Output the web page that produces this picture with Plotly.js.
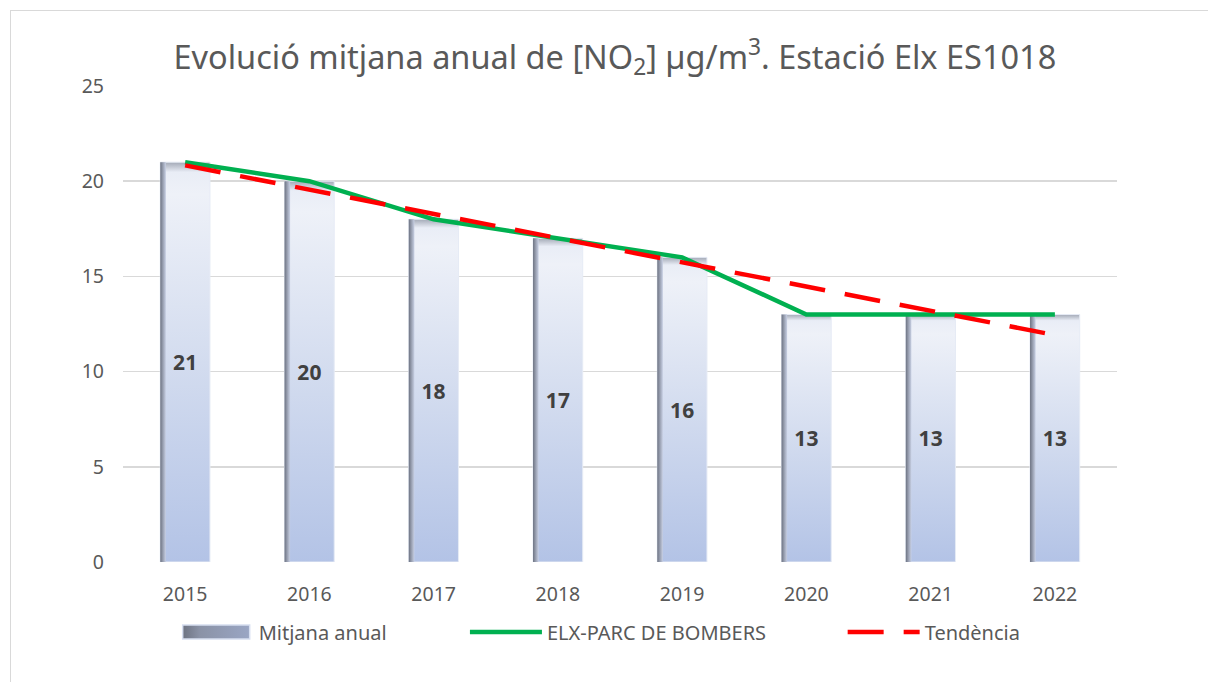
<!DOCTYPE html>
<html>
<head>
<meta charset="utf-8">
<script src="https://cdn.plot.ly/plotly-3.0.1.min.js"></script>
<style>
  html, body { margin: 0; padding: 0; background: #ffffff; }
  #frame { position: absolute; left: 10px; top: 10px; width: 1210px; height: 690px; border: 1px solid #d9d9d9; box-sizing: border-box; }
  #chart { position: absolute; left: 0; top: 0; width: 1208px; height: 682px; }
</style>
</head>
<body>
<div id="frame"></div>
<div id="chart"></div>
<script>
const years = ['2015', '2016', '2017', '2018', '2019', '2020', '2021', '2022'];
const annualMean = [21, 20, 18, 17, 16, 13, 13, 13];
const stationValues = [21, 20, 18, 17, 16, 13, 13, 13];
const trendValues = [20.83, 19.56, 18.28, 17.01, 15.74, 14.46, 13.19, 11.92];
const yTicks = [0, 5, 10, 15, 20, 25];

const font = '"Noto Sans", "Open Sans", sans-serif';
const legendFont = { family: font, size: 20, color: '#595959' };

const traces = [
  {
    type: 'bar', x: years, y: annualMean, name: 'Mitjana anual', legend: 'legend',
    width: 0.4,
    marker: { color: '#c9d4ec', line: { color: '#e6ebf5', width: 1 } },
    text: annualMean.map(String), textposition: 'inside', insidetextanchor: 'middle',
    textangle: 0,
    textfont: { family: font, size: 21, color: '#404040', weight: 'bold' },
    hoverinfo: 'x+y'
  },
  {
    type: 'bar', x: years, y: annualMean, showlegend: false,
    width: 0.045, offset: -0.2,
    marker: { color: '#8c919c', line: { width: 0 } },
    hoverinfo: 'skip'
  },
  {
    type: 'scatter', mode: 'lines', x: years, y: stationValues,
    name: 'ELX-PARC DE BOMBERS', legend: 'legend2',
    line: { color: '#00b050', width: 4.5 }
  },
  {
    type: 'scatter', mode: 'lines', x: years, y: trendValues, name: 'Tendència', legend: 'legend3',
    line: { color: '#ff0000', width: 4.5, dash: '36px,20px' }
  }
];

function leg(x) {
  return {
    orientation: 'h', x: x, xanchor: 'left', y: -0.106, yanchor: 'top',
    font: legendFont, itemwidth: 72, bgcolor: 'rgba(0,0,0,0)', borderwidth: 0
  };
}

const layout = {
  width: 1208, height: 682,
  paper_bgcolor: 'rgba(0,0,0,0)', plot_bgcolor: '#ffffff',
  margin: { l: 123, r: 91, t: 86, b: 120 },
  barmode: 'overlay',
  title: {
    text: 'Evolució mitjana anual de [NO<sub>2</sub>] µg/m<sup>3</sup>. Estació Elx ES1018',
    font: { family: font, size: 32.5, color: '#595959' },
    x: 0.509, xanchor: 'center', y: 0.916, yanchor: 'middle'
  },
  xaxis: {
    type: 'category', showgrid: false, zeroline: false, showline: false,
    ticks: '', tickfont: { family: font, size: 19.5, color: '#595959' },
    ticklabelstandoff: 18
  },
  yaxis: {
    range: [0, 25], tickvals: yTicks, ticktext: yTicks.map(String),
    showgrid: true, gridcolor: '#d9d9d9', gridwidth: 1.5,
    zeroline: false, showline: false, ticks: '',
    tickfont: { family: font, size: 19.5, color: '#595959' },
    ticklabelstandoff: 18
  },
  legend: leg(0.054),
  legend2: leg(0.344),
  legend3: leg(0.724),
  showlegend: true
};

Plotly.newPlot('chart', traces, layout, { displayModeBar: false, staticPlot: true }).then(function (gd) {
  const svg = gd.querySelector('svg.main-svg');
  const ns = 'http://www.w3.org/2000/svg';
  let defs = svg.querySelector('defs');
  if (!defs) { defs = document.createElementNS(ns, 'defs'); svg.insertBefore(defs, svg.firstChild); }
  function grad(id, x2, y2, stops) {
    const g = document.createElementNS(ns, 'linearGradient');
    g.setAttribute('id', id);
    g.setAttribute('x1', '0'); g.setAttribute('y1', '0');
    g.setAttribute('x2', x2); g.setAttribute('y2', y2);
    stops.forEach(function (s) {
      const st = document.createElementNS(ns, 'stop');
      st.setAttribute('offset', s[0]);
      st.setAttribute('stop-color', s[1]);
      g.appendChild(st);
    });
    defs.appendChild(g);
  }
  grad('barBody', '0', '1', [['0', '#a3a9b6'], ['0.025', '#e9edf6'], ['0.08', '#eef1f8'], ['0.5', '#d3dcef'], ['1', '#b3c3e6']]);
  grad('barEdge', '1', '0', [['0', '#6d7382'], ['1', '#c8d0e4']]);
  grad('legBar', '1', '0', [['0', '#6d7382'], ['0.25', '#8a92a6'], ['1', '#9aa6c4']]);
  const barTraces = gd.querySelectorAll('.barlayer .trace.bars');
  if (barTraces[0]) barTraces[0].querySelectorAll('.point path').forEach(function (p) { p.style.fill = 'url(#barBody)'; });
  if (barTraces[1]) barTraces[1].querySelectorAll('.point path').forEach(function (p) { p.style.fill = 'url(#barEdge)'; });
  const legPath = gd.querySelector('.legend .legendpoints path');
  if (legPath) {
    legPath.setAttribute('d', 'M-35,7H32V-7H-35Z');
    legPath.style.fill = 'url(#legBar)';
    legPath.style.stroke = '#d6def0';
    legPath.style.strokeWidth = '1.5px';
  }
});
</script>
</body>
</html>
